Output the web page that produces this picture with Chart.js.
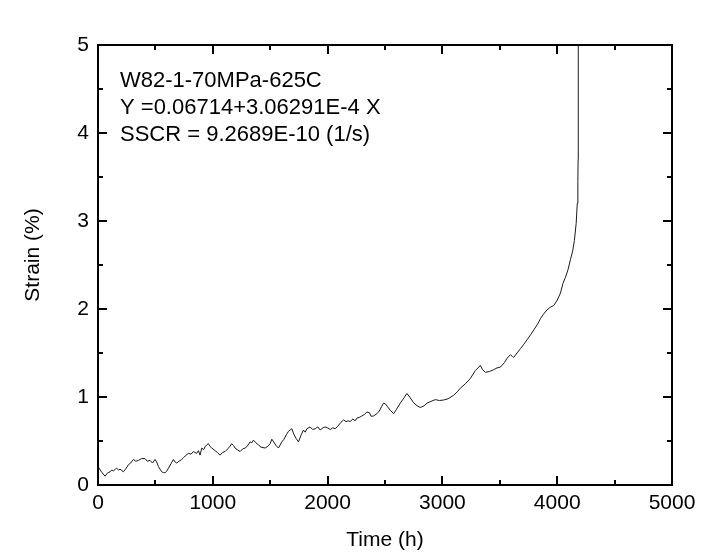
<!DOCTYPE html>
<html>
<head>
<meta charset="utf-8">
<script src="https://cdn.jsdelivr.net/npm/chart.js@4"></script>
<style>
  html, body { margin: 0; padding: 0; background: #fff; }
  #wrap { width: 725px; height: 557px; }
</style>
</head>
<body>
<div id="wrap"><canvas id="c" width="725" height="557"></canvas></div>
<script>
// ---- data ----
const timeHours = [0,30,61,85,105,120,134,150,163,180,192,221,245,265,285,308,330,352,380,410,430,453,475,497,515,526,555,570,584,600,613,635,657,672,686,705,729,745,760,788,810,831,860,875,889,904,920,933,950,962,975,991,1020,1040,1064,1085,1107,1130,1150,1165,1180,1194,1215,1238,1260,1282,1300,1325,1340,1354,1375,1398,1420,1456,1480,1500,1514,1530,1550,1572,1601,1620,1640,1659,1688,1705,1725,1746,1770,1790,1805,1820,1848,1870,1892,1915,1935,1960,1979,2000,2023,2045,2066,2090,2115,2139,2160,2180,2197,2220,2240,2255,2280,2299,2320,2342,2365,2380,2400,2429,2450,2470,2487,2505,2522,2545,2560,2575,2600,2633,2660,2691,2715,2749,2780,2807,2840,2866,2900,2938,2975,3011,3050,3098,3130,3156,3200,3243,3287,3310,3330,3350,3374,3410,3446,3475,3505,3540,3563,3592,3610,3621,3650,3680,3710,3737,3770,3800,3830,3854,3880,3911,3940,3970,4000,4028,4050,4072,4095,4115,4135,4150,4165,4175,4180,4182,4183,4184];
const strainPct = [0.21,0.15,0.10,0.14,0.15,0.17,0.16,0.18,0.19,0.17,0.18,0.15,0.19,0.23,0.25,0.29,0.27,0.28,0.30,0.30,0.27,0.28,0.25,0.29,0.25,0.21,0.15,0.14,0.14,0.16,0.19,0.24,0.29,0.26,0.25,0.27,0.29,0.31,0.33,0.36,0.35,0.38,0.36,0.39,0.34,0.42,0.40,0.435,0.46,0.47,0.44,0.42,0.39,0.37,0.34,0.37,0.38,0.41,0.44,0.47,0.45,0.42,0.40,0.38,0.41,0.42,0.44,0.49,0.48,0.51,0.48,0.455,0.43,0.42,0.44,0.47,0.52,0.49,0.45,0.42,0.49,0.52,0.57,0.61,0.64,0.58,0.53,0.49,0.57,0.625,0.60,0.64,0.66,0.63,0.64,0.66,0.625,0.65,0.66,0.65,0.63,0.65,0.64,0.67,0.71,0.74,0.72,0.73,0.72,0.75,0.73,0.76,0.77,0.785,0.80,0.83,0.82,0.78,0.785,0.81,0.84,0.89,0.93,0.92,0.89,0.85,0.83,0.81,0.86,0.93,0.98,1.04,1.00,0.935,0.90,0.88,0.90,0.93,0.95,0.97,0.96,0.966,0.98,1.02,1.06,1.10,1.15,1.21,1.30,1.33,1.36,1.31,1.28,1.29,1.31,1.33,1.34,1.39,1.44,1.48,1.46,1.45,1.50,1.55,1.60,1.65,1.71,1.77,1.83,1.89,1.94,1.99,2.02,2.04,2.10,2.18,2.29,2.36,2.45,2.56,2.66,2.78,2.97,3.20,3.45,3.70,4.20,5.30];
const xTickValues = [0,1000,2000,3000,4000,5000];
const yTickValues = [0,1,2,3,4,5];
const annotationLines = ["W82-1-70MPa-625C","Y =0.06714+3.06291E-4 X","SSCR = 9.2689E-10 (1/s)"];
const xTitle = "Time (h)";
const yTitle = "Strain (%)";

const FONT = "'Liberation Sans', Arial, sans-serif";
const points = timeHours.map((t, i) => ({x: t, y: strainPct[i]}));

// frame + inward ticks on all four sides, placed through the scales
const framePlugin = {
  id: 'frame',
  afterDraw(chart) {
    const {ctx, chartArea: a, scales: {x, y}} = chart;
    ctx.save();
    ctx.strokeStyle = '#000';
    ctx.lineWidth = 2;
    ctx.strokeRect(a.left, a.top, a.right - a.left, a.bottom - a.top);
    ctx.beginPath();
    for (let v = x.min; v <= x.max; v += 500) {
      const px = Math.round(x.getPixelForValue(v));
      const len = (v % 1000 === 0) ? 9 : 5;
      ctx.moveTo(px, a.bottom); ctx.lineTo(px, a.bottom - len);
      ctx.moveTo(px, a.top); ctx.lineTo(px, a.top + len);
    }
    for (let v = y.min; v <= y.max + 1e-9; v += 0.5) {
      const py = Math.round(y.getPixelForValue(v));
      const len = (Math.abs(v - Math.round(v)) < 1e-9) ? 9 : 5;
      ctx.moveTo(a.left, py); ctx.lineTo(a.left + len, py);
      ctx.moveTo(a.right, py); ctx.lineTo(a.right - len, py);
    }
    ctx.stroke();
    // annotation text
    ctx.fillStyle = '#000';
    ctx.font = '22px ' + FONT;
    ctx.textBaseline = 'alphabetic';
    ctx.textAlign = 'left';
    annotationLines.forEach((s, i) => {
      ctx.fillText(s, a.left + 22, a.top + 42 + i * 27);
    });
    // y axis title (rotated), slightly above the plot centre as in the reference
    ctx.font = '21px ' + FONT;
    ctx.textAlign = 'center';
    ctx.textBaseline = 'middle';
    ctx.translate(33, (a.top + a.bottom) / 2 - 10);
    ctx.rotate(-Math.PI / 2);
    ctx.fillText(yTitle, 0, 0);
    ctx.restore();
  }
};

new Chart(document.getElementById('c'), {
  type: 'line',
  data: {
    datasets: [{
      data: points,
      borderColor: '#1a1a1a',
      borderWidth: 1,
      pointRadius: 0,
      tension: 0,
      fill: false
    }]
  },
  options: {
    responsive: false,
    animation: false,
    devicePixelRatio: 1,
    layout: { padding: { top: 45, right: 53, bottom: 0, left: 0 } },
    plugins: { legend: { display: false }, tooltip: { enabled: false } },
    scales: {
      x: {
        type: 'linear',
        min: 0, max: 5000,
        afterBuildTicks: s => { s.ticks = xTickValues.map(v => ({value: v})); },
        afterFit: s => { s.height = 72; },
        grid: { display: false, drawTicks: false },
        border: { display: false },
        ticks: { padding: 6, color: '#000', font: { family: FONT, size: 21 }, maxRotation: 0, callback: v => String(v) },
        title: { display: true, text: xTitle, color: '#000', font: { family: FONT, size: 21 }, padding: { top: 4, bottom: 4 } }
      },
      y: {
        type: 'linear',
        min: 0, max: 5,
        afterBuildTicks: s => { s.ticks = yTickValues.map(v => ({value: v})); },
        afterFit: s => { s.width = 98; },
        grid: { display: false, drawTicks: false },
        border: { display: false },
        ticks: { padding: 9, color: '#000', font: { family: FONT, size: 21 }, callback: v => String(v) },
        title: { display: false }
      }
    }
  },
  plugins: [framePlugin]
});
</script>
</body>
</html>
